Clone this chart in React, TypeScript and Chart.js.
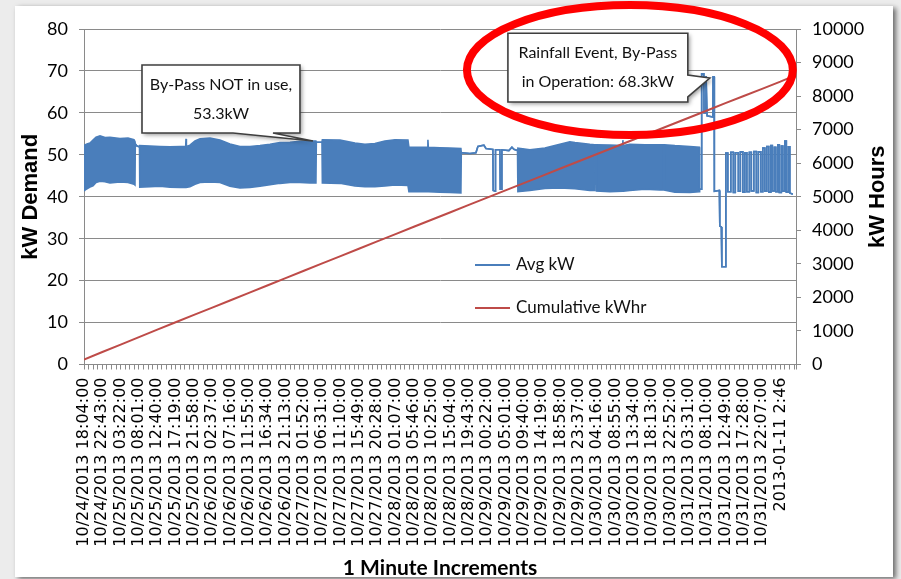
import React, { useEffect, useRef } from "react";
import { Chart, registerables } from "chart.js";

Chart.register(...registerables);

// ---------- data ----------
const tickLabels = [
  "10/24/2013 18:04:00", "10/24/2013 22:43:00", "10/25/2013 03:22:00", "10/25/2013 08:01:00",
  "10/25/2013 12:40:00", "10/25/2013 17:19:00", "10/25/2013 21:58:00", "10/26/2013 02:37:00",
  "10/26/2013 07:16:00", "10/26/2013 11:55:00", "10/26/2013 16:34:00", "10/26/2013 21:13:00",
  "10/27/2013 01:52:00", "10/27/2013 06:31:00", "10/27/2013 11:10:00", "10/27/2013 15:49:00",
  "10/27/2013 20:28:00", "10/28/2013 01:07:00", "10/28/2013 05:46:00", "10/28/2013 10:25:00",
  "10/28/2013 15:04:00", "10/28/2013 19:43:00", "10/29/2013 00:22:00", "10/29/2013 05:01:00",
  "10/29/2013 09:40:00", "10/29/2013 14:19:00", "10/29/2013 18:58:00", "10/29/2013 23:37:00",
  "10/30/2013 04:16:00", "10/30/2013 08:55:00", "10/30/2013 13:34:00", "10/30/2013 18:13:00",
  "10/30/2013 22:52:00", "10/31/2013 03:31:00", "10/31/2013 08:10:00", "10/31/2013 12:49:00",
  "10/31/2013 17:28:00", "10/31/2013 22:07:00", "2013-01-11 2:46",
];
const MINUTES_PER_LABEL = 279;
const MINOR_TICKS_PER_LABEL = 4;
const X_MAX_MINUTES = 10840;

// Cumulative kWhr read at each tick label, plus the last sample
const cumulativeKwh = [
  150, 372, 594, 816, 1038, 1258, 1477, 1696, 1915, 2135, 2355, 2574, 2793, 3013, 3232,
  3451, 3669, 3887, 4105, 4322, 4539, 4756, 4973, 5190, 5407, 5624, 5841, 6058, 6274,
  6490, 6706, 6922, 7138, 7354, 7570, 7792, 8004, 8216, 8430,
];
const cumulativeLastMinute = 10792;
const cumulativeLastKwh = 8590;

// Avg kW (1-minute trace) : [minutes since 10/24 18:04, upper envelope kW, lower envelope kW]
const avgKwTrace: number[][] = [
  [0, 41.5, 41.5], [8, 52.3, 41.5], [46, 52.6, 41.9], [91, 52.8, 42.3], [137, 53.5, 42.6],
  [183, 54.2, 43.4], [244, 54.5, 43.7], [320, 54.1, 43.6], [396, 54.2, 43.3], [548, 53.9, 43.5],
  [670, 54.0, 43.4], [761, 53.6, 43.0], [776, 53.2, 42.8], [781, 52.6, 52.6], [807, 52.1, 52.1],
  [845, 51.9, 51.9], [849, 52.2, 42.3],
  [1005, 52.1, 42.4], [1157, 52.0, 42.5], [1309, 51.9, 42.3], [1461, 52.0, 42.2], [1548, 52.0, 42.2],
  [1553, 53.8, 42.2], [1559, 52.0, 42.2], [1613, 52.3, 42.4], [1690, 53.3, 43.0], [1766, 53.8, 43.4],
  [1918, 54.0, 43.5], [2070, 53.5, 43.4], [2222, 52.6, 42.5], [2374, 52.0, 42.1], [2527, 52.0, 42.2],
  [2679, 52.2, 42.5], [2831, 52.5, 42.9], [2983, 52.9, 43.2], [3136, 53.0, 43.4], [3288, 53.2, 43.4],
  [3440, 53.3, 43.3], [3531, 53.3, 43.3], [3537, 53.0, 53.0], [3623, 53.0, 53.0], [3629, 53.6, 43.3],
  [3897, 53.5, 43.2], [4125, 52.8, 42.6], [4277, 52.5, 42.4], [4429, 52.7, 42.4], [4582, 53.3, 42.6],
  [4734, 53.6, 42.8], [4932, 53.5, 42.7], [4947, 51.8, 41.2], [5230, 51.8, 41.2], [5236, 53.6, 41.2],
  [5242, 51.8, 41.2], [5419, 51.7, 41.1], [5571, 51.6, 41.0], [5738, 51.5, 40.9], [5744, 50.5, 50.5],
  [5875, 50.3, 50.3], [5967, 50.5, 50.5], [5997, 52.0, 52.0], [6088, 52.3, 52.3], [6119, 51.5, 51.5],
  [6225, 51.3, 51.3], [6230, 41.5, 41.5], [6260, 41.3, 41.3], [6265, 51.2, 51.2], [6332, 51.2, 51.2],
  [6337, 41.8, 41.8], [6358, 41.8, 41.8], [6362, 51.2, 51.2], [6469, 51.0, 51.0], [6515, 51.8, 51.8],
  [6545, 51.3, 51.3], [6600, 51.0, 51.0], [6606, 51.6, 41.2],
  [6789, 51.2, 41.5], [7017, 51.6, 42.0], [7245, 52.5, 42.1], [7397, 53.1, 42.0], [7474, 52.9, 41.9],
  [7702, 52.5, 41.5], [7776, 52.4, 41.5], [7780, 52.4, 52.4], [7798, 52.4, 52.4], [7802, 52.4, 41.4],
  [8006, 52.3, 41.2], [8198, 52.2, 41.3], [8204, 53.5, 41.3], [8210, 52.2, 41.3], [8311, 52.5, 41.5],
  [8539, 52.4, 41.8], [8767, 52.4, 41.6], [8811, 52.4, 41.6], [8815, 52.4, 52.4], [8833, 52.4, 52.4],
  [8837, 52.4, 41.6], [8996, 52.2, 41.1], [9224, 52.0, 41.0], [9368, 51.8, 41.2], [9373, 41.8, 41.8],
  [9399, 41.8, 41.8], [9404, 69.3, 69.3], [9437, 69.3, 69.3], [9440, 60.0, 60.0], [9468, 60.0, 60.0],
  [9471, 68.8, 68.8], [9483, 68.8, 68.8], [9486, 59.3, 59.3], [9574, 59.0, 59.0], [9577, 68.6, 68.6],
  [9594, 68.6, 68.6], [9597, 41.3, 41.3],
  [9673, 41.5, 41.5], [9680, 33.0, 33.0], [9703, 32.8, 32.8], [9711, 23.3, 23.3], [9764, 23.3, 23.3],
  [9772, 50.4, 50.4],
  [9802, 50.4, 50.4], [9802, 41.2, 41.2], [9848, 41.2, 41.2], [9848, 50.6, 50.6],
  [9886, 50.6, 50.6], [9886, 41.0, 41.0], [9916, 41.0, 41.0], [9916, 50.5, 50.5],
  [9962, 50.5, 50.5], [9962, 41.3, 41.3], [9993, 41.3, 41.3], [9993, 50.7, 50.7],
  [10031, 50.7, 50.7], [10031, 41.1, 41.1], [10061, 41.1, 41.1], [10061, 50.5, 50.5],
  [10092, 50.5, 50.5], [10092, 41.2, 41.2], [10130, 41.2, 41.2], [10130, 50.6, 50.6],
  [10160, 50.6, 50.6], [10160, 41.4, 41.4], [10198, 41.4, 41.4], [10198, 50.8, 50.8],
  [10236, 50.8, 50.8], [10236, 41.0, 41.0], [10267, 41.0, 41.0], [10267, 50.7, 50.7],
  [10305, 50.7, 50.7], [10305, 41.2, 41.2], [10335, 41.2, 41.2], [10335, 51.6, 51.6],
  [10366, 51.6, 51.6], [10366, 41.3, 41.3], [10396, 41.3, 41.3], [10396, 52.0, 52.0],
  [10426, 52.0, 52.0], [10426, 41.1, 41.1], [10457, 41.1, 41.1], [10457, 52.2, 52.2],
  [10480, 52.2, 52.2], [10480, 41.4, 41.4], [10510, 41.4, 41.4], [10510, 51.8, 51.8],
  [10533, 51.8, 51.8], [10533, 41.2, 41.2], [10563, 41.2, 41.2], [10563, 52.4, 52.4],
  [10586, 52.4, 52.4], [10586, 41.0, 41.0], [10617, 41.0, 41.0], [10617, 52.1, 52.1],
  [10640, 52.1, 52.1], [10640, 41.3, 41.3], [10670, 41.3, 41.3], [10670, 53.3, 53.3],
  [10693, 53.3, 53.3], [10693, 41.1, 41.1], [10723, 41.1, 41.1], [10723, 51.9, 51.9],
  [10746, 51.9, 51.9], [10746, 40.9, 40.9], [10792, 40.6, 40.6],
];

// ---------- annotations (in data units) ----------
const callouts = [
  {
    lines: ["By-Pass NOT in use,", "53.3kW"],
    box: [883, 71.4, 3288, 55.2],
    pointer: { side: "bottom", from: 2268, to: 2877, tipX: 3486, tipY: 53.3 },
  },
  {
    lines: ["Rainfall Event, By-Pass", "in Operation: 68.3kW"],
    box: [6454, 79.0, 9193, 62.6],
    pointer: { side: "right", from: 69.0, to: 63.8, tipX: 9528, tipY: 68.3 },
  },
];
const highlight = { cx: 8311, cy: 70.2, rx: 2481, ry: 15.5 };

const BLUE = "#4a7ebb";
const RED = "#be4b48";
const GRID = "#8a8a8a";
const FONT = "Lato, 'Open Sans', sans-serif";

const overlayPlugin = {
  id: "overlay",
  afterDatasetsDraw(chart: any) {
    const { ctx, chartArea, scales } = chart;
    const xs = scales.x;
    const ys = scales.y;
    ctx.save();

    // legend inside plot
    const legendItems = [
      { text: "Avg kW", color: BLUE, dy: 236 },
      { text: "Cumulative kWhr", color: RED, dy: 279 },
    ];
    ctx.font = `17px ${FONT}`;
    ctx.textBaseline = "middle";
    ctx.textAlign = "left";
    for (const it of legendItems) {
      const lx = chartArea.left + 391;
      const ly = chartArea.top + it.dy;
      ctx.strokeStyle = it.color;
      ctx.lineWidth = 2;
      ctx.beginPath();
      ctx.moveTo(lx, ly);
      ctx.lineTo(lx + 35, ly);
      ctx.stroke();
      ctx.fillStyle = "#111";
      ctx.fillText(it.text, lx + 41, ly);
    }

    // callouts
    for (const c of callouts) {
      const L = xs.getPixelForValue(c.box[0]);
      const T = ys.getPixelForValue(c.box[1]);
      const R = xs.getPixelForValue(c.box[2]);
      const B = ys.getPixelForValue(c.box[3]);
      const tx = xs.getPixelForValue(c.pointer.tipX);
      const ty = ys.getPixelForValue(c.pointer.tipY);
      ctx.beginPath();
      ctx.moveTo(L, T);
      ctx.lineTo(R, T);
      if (c.pointer.side === "right") {
        ctx.lineTo(R, ys.getPixelForValue(c.pointer.from));
        ctx.lineTo(tx, ty);
        ctx.lineTo(R, ys.getPixelForValue(c.pointer.to));
      }
      ctx.lineTo(R, B);
      if (c.pointer.side === "bottom") {
        ctx.lineTo(xs.getPixelForValue(c.pointer.to), B);
        ctx.lineTo(tx, ty);
        ctx.lineTo(xs.getPixelForValue(c.pointer.from), B);
      }
      ctx.lineTo(L, B);
      ctx.closePath();
      ctx.save();
      ctx.shadowColor = "rgba(0,0,0,0.4)";
      ctx.shadowBlur = 4;
      ctx.shadowOffsetX = 2;
      ctx.shadowOffsetY = 2;
      ctx.fillStyle = "#fff";
      ctx.fill();
      ctx.restore();
      ctx.lineWidth = 1.6;
      ctx.strokeStyle = "#3f3f3f";
      ctx.lineJoin = "miter";
      ctx.stroke();
      ctx.fillStyle = "#111";
      ctx.font = `16px ${FONT}`;
      ctx.textAlign = "center";
      ctx.textBaseline = "middle";
      const cx = (L + R) / 2;
      const cy = (T + B) / 2;
      const lh = 29;
      c.lines.forEach((t, i) => {
        ctx.fillText(t, cx, cy + (i - (c.lines.length - 1) / 2) * lh);
      });
    }

    // red highlight ellipse
    const ex = xs.getPixelForValue(highlight.cx);
    const ey = ys.getPixelForValue(highlight.cy);
    const erx = xs.getPixelForValue(highlight.cx + highlight.rx) - ex;
    const ery = ys.getPixelForValue(highlight.cy - highlight.ry) - ey;
    ctx.beginPath();
    ctx.ellipse(ex, ey, erx, ery, 0, 0, Math.PI * 2);
    ctx.strokeStyle = "#ff0000";
    ctx.lineWidth = 8;
    ctx.stroke();

    ctx.restore();
  },
  afterDraw(chart: any) {
    const { ctx, chartArea } = chart;
    ctx.save();
    ctx.translate(878, (chartArea.top + chartArea.bottom) / 2);
    ctx.rotate(-Math.PI / 2);
    ctx.font = "bold 22px 'Liberation Sans', Arial, sans-serif";
    ctx.fillStyle = "#000";
    ctx.textAlign = "center";
    ctx.textBaseline = "middle";
    ctx.fillText("kW Hours", 0, 0);
    ctx.restore();
  },
};

export default function App() {
  const ref = useRef<HTMLCanvasElement>(null);

  useEffect(() => {
    if (!ref.current) return;
    const minorStep = MINUTES_PER_LABEL / MINOR_TICKS_PER_LABEL;
    const cumulativeData = cumulativeKwh
      .map((v, i) => ({ x: i * MINUTES_PER_LABEL, y: v }))
      .concat([{ x: cumulativeLastMinute, y: cumulativeLastKwh }]);
    const upper = avgKwTrace.map((p) => ({ x: p[0], y: p[1] }));
    const lower = avgKwTrace.map((p) => ({ x: p[0], y: p[2] }));

    const chart = new Chart(ref.current, {
      type: "line",
      data: {
        datasets: [
          {
            label: "Cumulative kWhr",
            data: cumulativeData,
            yAxisID: "y1",
            borderColor: RED,
            borderWidth: 2,
            pointRadius: 0,
            fill: false,
          },
          {
            label: "Avg kW",
            data: upper,
            yAxisID: "y",
            borderColor: BLUE,
            borderWidth: 1.6,
            pointRadius: 0,
            fill: false,
          },
          {
            label: "Avg kW (lower)",
            data: lower,
            yAxisID: "y",
            borderColor: BLUE,
            borderWidth: 1.6,
            pointRadius: 0,
            backgroundColor: BLUE,
            fill: "-1",
          },
        ],
      },
      options: {
        responsive: false,
        animation: false,
        devicePixelRatio: 1,
        layout: { padding: { top: 29, left: 0, right: 0, bottom: 0 } },
        elements: { line: { tension: 0 }, point: { radius: 0 } },
        plugins: {
          legend: { display: false },
          tooltip: { enabled: false },
        },
        scales: {
          x: {
            type: "linear",
            position: "bottom",
            min: 0,
            max: X_MAX_MINUTES,
            bounds: "data",
            afterFit: (s: any) => {
              s.height = 214.5;
            },
            grid: { drawOnChartArea: false, drawTicks: true, tickLength: 5, color: GRID },
            border: { display: true, color: GRID, width: 1 },
            ticks: {
              stepSize: minorStep,
              autoSkip: false,
              minRotation: 90,
              maxRotation: 90,
              padding: 8,
              color: "#000",
              font: { family: "'DejaVu Sans', sans-serif", size: 16 },
              callback: (value: any) => {
                const k = Math.round(Number(value) / minorStep);
                if (k % MINOR_TICKS_PER_LABEL !== 0) return "";
                return tickLabels[k / MINOR_TICKS_PER_LABEL] ?? "";
              },
            },
            title: {
              display: true,
              text: "1 Minute Increments",
              color: "#000",
              font: { family: FONT, size: 21, weight: "bold", lineHeight: 1 },
              padding: { top: 0, bottom: 0 },
            },
          },
          y: {
            position: "left",
            min: 0,
            max: 80,
            afterFit: (s: any) => {
              s.width = 84;
            },
            grid: { color: GRID, tickLength: 5 },
            border: { display: true, color: GRID },
            ticks: {
              stepSize: 10,
              padding: 11,
              color: "#000",
              font: { family: FONT, size: 18 },
              callback: (v: any) => String(v),
            },
            title: {
              display: true,
              text: "kW Demand",
              color: "#000",
              font: { family: "'Liberation Sans', Arial, sans-serif", size: 22, weight: "bold", lineHeight: 1 },
              padding: { top: 20, bottom: 0 },
            },
          },
          y1: {
            position: "right",
            min: 0,
            max: 10000,
            afterFit: (s: any) => {
              s.width = 105;
            },
            grid: { drawOnChartArea: false, color: GRID, tickLength: 5 },
            border: { display: true, color: GRID },
            ticks: {
              stepSize: 1000,
              padding: 11,
              color: "#000",
              font: { family: FONT, size: 18 },
              callback: (v: any) => String(v),
            },
          },
        },
      },
      plugins: [overlayPlugin],
    } as any);

    return () => chart.destroy();
  }, []);

  return (
    <div
      style={{
        position: "fixed",
        left: 0,
        top: 0,
        width: 901,
        height: 579,
        background: "#ececec",
        overflow: "hidden",
      }}
    >
      <div
        style={{
          position: "absolute",
          left: 15,
          top: 6,
          width: 878,
          height: 571,
          background: "#ffffff",
          boxShadow: "3px 2px 5px rgba(0,0,0,0.55)",
        }}
      />
      <canvas
        ref={ref}
        width={901}
        height={579}
        style={{ position: "absolute", left: 0, top: 0, width: 901, height: 579 }}
      />
    </div>
  );
}
